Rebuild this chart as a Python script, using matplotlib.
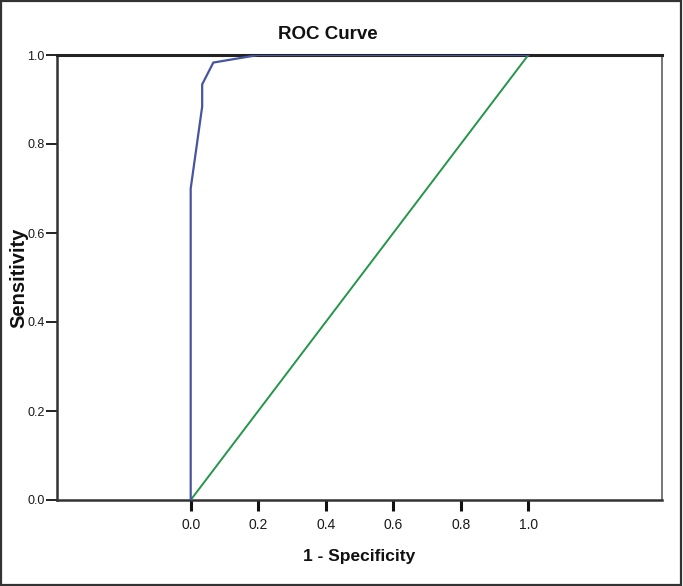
import matplotlib
matplotlib.use("Agg")
import matplotlib.pyplot as plt
from matplotlib.patches import Rectangle

# ROC curve data (1 - specificity, sensitivity)
fpr = [0.0, 0.0, 0.034, 0.034, 0.067, 0.20, 1.0]
tpr = [0.0, 0.70, 0.884, 0.934, 0.983, 1.0, 1.0]
# reference line
ref_x = [0.0, 1.0]
ref_y = [0.0, 1.0]
tick_vals = [0.0, 0.2, 0.4, 0.6, 0.8, 1.0]
tick_labels = ["0.0", "0.2", "0.4", "0.6", "0.8", "1.0"]

fam = ["Liberation Sans", "DejaVu Sans"]

W, H = 683, 586
fig = plt.figure(figsize=(W / 100, H / 100), dpi=100)
fig.patch.set_facecolor("white")

ax = fig.add_axes([57 / W, 1 - 500 / H, (662 - 57) / W, (500 - 55) / H])
ax.plot(ref_x, ref_y, color="#23964a", lw=1.4, zorder=3)
ax.plot(fpr, tpr, color="#4655a0", lw=1.6, zorder=4)

ax.set_xlim(-0.396, 1.396)
ax.set_ylim(0.0, 1.0)
ax.set_xticks(tick_vals)
ax.set_xticklabels(tick_labels, fontfamily=fam, fontsize=10, color="#1a1a1a")
ax.set_yticks(tick_vals)
ax.set_yticklabels(tick_labels, fontfamily=fam, fontsize=9, color="#1a1a1a")
ax.tick_params(axis="x", direction="out", length=8, width=2.2, color="#111111", pad=5)
ax.tick_params(axis="y", direction="out", length=8, width=1.4, color="#222222", pad=1)

for side in ["left", "bottom"]:
    ax.spines[side].set_color("#333333")
    ax.spines[side].set_linewidth(1.8)
ax.spines["top"].set_color("#222222")
ax.spines["top"].set_linewidth(2.2)
ax.spines["right"].set_color("#777777")
ax.spines["right"].set_linewidth(1.4)

fig.text(328 / W, 1 - 39.3 / H, "ROC Curve", ha="center", va="baseline",
         fontfamily=fam, fontweight="bold", fontsize=13.5, color="#111111")
fig.text(359.5 / W, 1 - 561.5 / H, "1 - Specificity", ha="center", va="baseline",
         fontfamily=fam, fontweight="bold", fontsize=12.5, color="#111111")
fig.text(24.5 / W, 1 - 278 / H, "Sensitivity", ha="center", va="baseline",
         rotation=90, rotation_mode="anchor",
         fontfamily=fam, fontweight="bold", fontsize=14.5, color="#111111")

# outer frame of the picture
fig.add_artist(Rectangle((0.8 / W, 1.2 / H), 680 / W, 583.5 / H, transform=fig.transFigure,
                         fill=False, edgecolor="#333333", lw=1.6))

fig.savefig("out.png", dpi=100, facecolor="white")
